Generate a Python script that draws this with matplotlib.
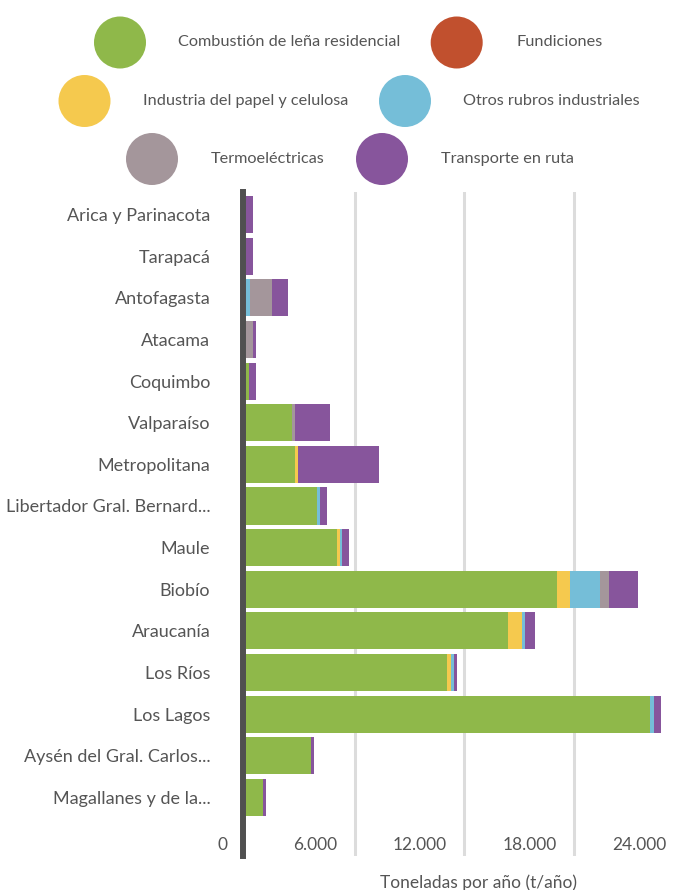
import matplotlib
matplotlib.use("Agg")
import matplotlib.pyplot as plt
from matplotlib.patches import Circle
from matplotlib.transforms import ScaledTranslation
from matplotlib import font_manager
import numpy as np

# Regionen von oben nach unten
regiones = ["Arica y Parinacota", "Tarapacá", "Antofagasta", "Atacama", "Coquimbo",
            "Valparaíso", "Metropolitana", "Libertador Gral. Bernard...", "Maule",
            "Biobío", "Araucanía", "Los Ríos", "Los Lagos",
            "Aysén del Gral. Carlos...", "Magallanes y de la..."]

lena = [0, 0, 0, 0, 235, 2560, 2740, 3960, 5020, 17080, 14430, 11090, 22210, 3620, 970]
fundiciones = [0, 0, 0, 0, 0, 0, 0, 0, 0, 0, 0, 0, 0, 0, 0]
papel = [0, 0, 0, 0, 0, 0, 180, 0, 180, 730, 730, 180, 0, 0, 0]
otros = [0, 0, 250, 0, 0, 0, 0, 165, 125, 1640, 180, 165, 220, 0, 0]
termo = [0, 0, 1220, 420, 0, 165, 0, 0, 0, 490, 0, 0, 0, 0, 0]
transporte = [420, 420, 880, 165, 350, 1950, 4400, 385, 400, 1605, 530, 180, 365, 180, 180]

series = ["Combustión de leña residencial", "Fundiciones", "Industria del papel y celulosa",
          "Otros rubros industriales", "Termoeléctricas", "Transporte en ruta"]
werte = [lena, fundiciones, papel, otros, termo, transporte]
farben = ["#8fb84a", "#c1502e", "#f5c94e", "#75bed8", "#a4969b", "#87559c"]

xticks = [0, 6000, 12000, 18000, 24000]
xtick_labels = ["0", "6.000", "12.000", "18.000", "24.000"]

textfarbe = "#555555"
verfuegbar = {f.name for f in font_manager.fontManager.ttflist}
schrift = "Lato" if "Lato" in verfuegbar else "DejaVu Sans"

fig = plt.figure(figsize=(6.73, 8.90), dpi=100)
ax = fig.add_axes([245 / 673, 1 - 856 / 890, 438 / 673, 664 / 890])

y = np.arange(len(regiones))
links = np.zeros(len(regiones))
for name, w, c in zip(series, werte, farben):
    ax.barh(y, w, left=links, height=0.89, color=c, zorder=2)
    links += np.array(w)

ax.set_xlim(0, 24000)
ax.set_ylim(len(regiones) - 1 + 1.405, -0.54)

# Gitterlinien und dunkle Achse
for t in xticks[1:]:
    ax.axvline(t, color="#dcdcdc", lw=2.2, zorder=0)
ax.axvline(-110, color="#505050", lw=4.3, zorder=3, clip_on=False)

for s in ax.spines.values():
    s.set_visible(False)

ax.set_yticks(y)
ax.set_yticklabels(regiones, fontsize=13, color=textfarbe, family=schrift)
ax.tick_params(axis="y", length=0, pad=25)
ax.set_xticks([])

versatz = ScaledTranslation(-0.17, 0, fig.dpi_scale_trans)
for t, lab in zip(xticks, xtick_labels):
    ax.text(t, 0.0166, lab, transform=ax.get_xaxis_transform() + versatz,
            ha="right", va="center", fontsize=12.5, color=textfarbe, family=schrift)

fig.text(478 / 673, 1 - 883 / 890, "Toneladas por año (t/año)", ha="center", va="center",
         fontsize=12.5, color=textfarbe, family=schrift)

# Legende oben mit Kreisen
lax = fig.add_axes([0, 1 - 190 / 890, 1, 190 / 890])
lax.set_xlim(0, 673)
lax.set_ylim(190, 0)
lax.axis("off")
kreise = [(120, 42.5), (456.7, 42.5), (84.5, 101), (405, 101), (152, 159), (382, 159)]
text_x = [178, 516, 143, 463, 211, 441]
for name, c, (cx, cy), tx in zip(series, farben, kreise, text_x):
    lax.add_patch(Circle((cx, cy), 26, color=c, lw=0))
    lax.text(tx, cy, name, ha="left", va="center", fontsize=11.7, color=textfarbe, family=schrift)

fig.savefig("out.png", dpi=100)
